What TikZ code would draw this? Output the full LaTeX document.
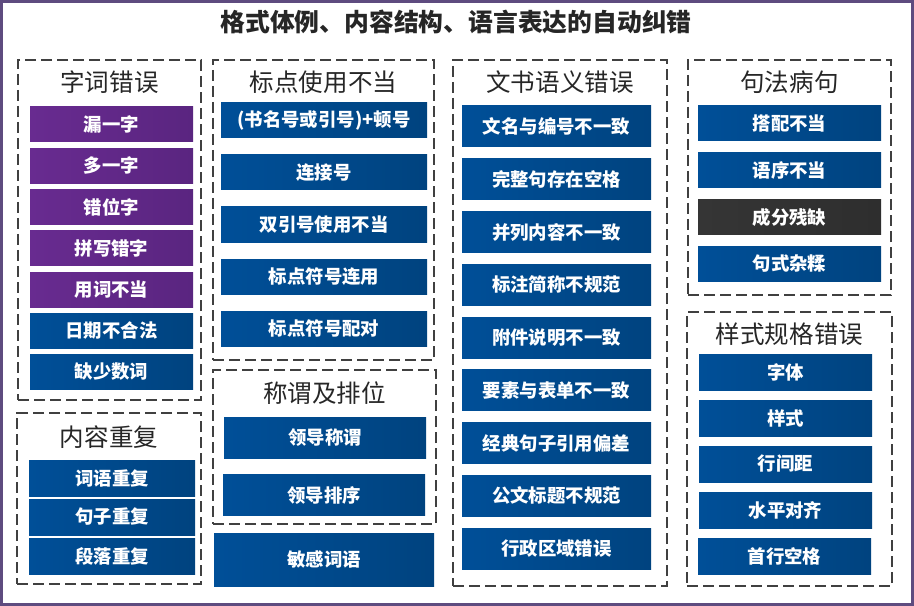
\documentclass[tikz,border=0pt]{standalone}
\usepackage{fontspec}
\newfontfamily\cjk{Noto Sans CJK SC}
\usepackage{tikz}

\definecolor{framepurple}{HTML}{5E4B7F}
\definecolor{dashgray}{HTML}{404040}
\definecolor{blueL}{HTML}{004F98}
\definecolor{blueR}{HTML}{00437F}
\definecolor{purpleL}{HTML}{682B90}
\definecolor{purpleR}{HTML}{5A2580}
\definecolor{darkL}{HTML}{353535}
\definecolor{darkR}{HTML}{2E2E2E}

\begin{document}
\begin{tikzpicture}[x=0.75pt, y=-0.75pt,
		group_style/.style={draw=dashgray, dash pattern=on 8.5pt off 3.5pt, line width=1.5pt, inner sep=0pt},
		title_style/.style={font=\cjk\fontsize{18.4pt}{20pt}\selectfont, text=black!85, inner sep=0pt},
		btn_style/.style={left color=blueL, right color=blueR, text=white, inner sep=0pt,
			font=\cjk\bfseries\fontsize{13.8pt}{16pt}\selectfont},
		purple_btn/.style={btn_style, left color=purpleL, right color=purpleR},
		dark_btn/.style={btn_style, left color=darkL, right color=darkR}]

		\useasboundingbox (0,0) rectangle (914,606);
		\draw[framepurple, line width=2.25pt] (1.5,1.5) rectangle (912.5,604.5);

		\node[font=\cjk\bfseries\fontsize{18.6pt}{20pt}\selectfont, text=black!85] (title) at (456,22) {格式体例、内容结构、语言表达的自动纠错};

		% dashed groups
		\node[group_style, minimum width=183*0.75pt, minimum height=340*0.75pt] (g1) at (109.5,230) {};
		\node[group_style, minimum width=184*0.75pt, minimum height=171*0.75pt] (g2) at (109,498.5) {};
		\node[group_style, minimum width=221*0.75pt, minimum height=300*0.75pt] (g3) at (323.5,210) {};
		\node[group_style, minimum width=223*0.75pt, minimum height=154*0.75pt] (g4) at (324.5,447) {};
		\node[group_style, minimum width=214*0.75pt, minimum height=526*0.75pt] (g5) at (560,323) {};
		\node[group_style, minimum width=203*0.75pt, minimum height=235*0.75pt] (g6) at (789.5,177.5) {};
		\node[group_style, minimum width=205*0.75pt, minimum height=274*0.75pt] (g7) at (789.5,449) {};

		\node[title_style] (t1) at (109.5,82) {字词错误};
		\node[title_style] (t2) at (109,437) {内容重复};
		\node[title_style] (t3) at (323.5,82) {标点使用不当};
		\node[title_style] (t4) at (324.5,393) {称谓及排位};
		\node[title_style] (t5) at (560,82) {文书语义错误};
		\node[title_style] (t6) at (789.5,82) {句法病句};
		\node[title_style] (t7) at (789.5,334) {样式规格错误};

		% 字词错误
		\begin{scope}[every node/.append style={minimum width=163*0.75pt, minimum height=35*0.75pt}]
		\node[purple_btn] (b11) at (111.5,124.5) {漏一字};
		\node[purple_btn] (b12) at (111.5,165.75) {多一字};
		\node[purple_btn] (b13) at (111.5,207) {错位字};
		\node[purple_btn] (b14) at (111.5,248.25) {拼写错字};
		\node[purple_btn] (b15) at (111.5,289.5) {用词不当};
		\node[btn_style] (b16) at (111.5,330.75) {日期不合法};
		\node[btn_style] (b17) at (111.5,372) {缺少数词};
		\end{scope}

		% 内容重复
		\begin{scope}[every node/.append style={minimum width=166*0.75pt, minimum height=36*0.75pt}]
		\node[btn_style] (b21) at (112,478) {词语重复};
		\node[btn_style] (b22) at (112,517) {句子重复};
		\node[btn_style] (b23) at (112,556) {段落重复};
		\end{scope}

		% 标点使用不当
		\begin{scope}[every node/.append style={minimum width=206*0.75pt, minimum height=35*0.75pt}]
		\node[btn_style] (b31) at (324,120.5) {(书名号或引号)+顿号};
		\node[btn_style] (b32) at (324,172.5) {连接号};
		\node[btn_style] (b33) at (324,224.5) {双引号使用不当};
		\node[btn_style] (b34) at (324,276.5) {标点符号连用};
		\node[btn_style] (b35) at (324,328.5) {标点符号配对};
		\end{scope}

		% 称谓及排位
		\begin{scope}[every node/.append style={minimum width=202*0.75pt, minimum height=41*0.75pt}]
		\node[btn_style] (b41) at (325,437.5) {领导称谓};
		\node[btn_style] (b42) at (324,495) {领导排序};
		\end{scope}
		\node[btn_style, minimum width=220*0.75pt, minimum height=53*0.75pt] (b43) at (324,559.5) {敏感词语};

		% 文书语义错误
		\begin{scope}[every node/.append style={minimum width=189*0.75pt, minimum height=41*0.75pt}]
		\node[btn_style] (b51) at (556.5,126.5) {文名与编号不一致};
		\node[btn_style] (b52) at (556.5,179.25) {完整句存在空格};
		\node[btn_style] (b53) at (556.5,232) {并列内容不一致};
		\node[btn_style] (b54) at (556.5,284.75) {标注简称不规范};
		\node[btn_style] (b55) at (556.5,337.5) {附件说明不一致};
		\node[btn_style] (b56) at (556.5,390.25) {要素与表单不一致};
		\node[btn_style] (b57) at (556.5,443) {经典句子引用偏差};
		\node[btn_style] (b58) at (556.5,495.75) {公文标题不规范};
		\node[btn_style] (b59) at (556.5,548.5) {行政区域错误};
		\end{scope}

		% 句法病句
		\begin{scope}[every node/.append style={minimum width=183*0.75pt, minimum height=35*0.75pt}]
		\node[btn_style] (b61) at (789.5,123) {搭配不当};
		\node[btn_style] (b62) at (789.5,170) {语序不当};
		\node[dark_btn] (b63) at (789.5,217) {成分残缺};
		\node[btn_style] (b64) at (789.5,264) {句式杂糅};
		\end{scope}

		% 样式规格错误
		\begin{scope}[every node/.append style={minimum width=173*0.75pt, minimum height=36*0.75pt}]
		\node[btn_style] (b71) at (785.5,372) {字体};
		\node[btn_style] (b72) at (785.5,418) {样式};
		\node[btn_style] (b73) at (785.5,464) {行间距};
		\node[btn_style] (b74) at (785.5,510) {水平对齐};
		\node[btn_style] (b75) at (784.5,556) {首行空格};
		\end{scope}

\end{tikzpicture}
\end{document}
